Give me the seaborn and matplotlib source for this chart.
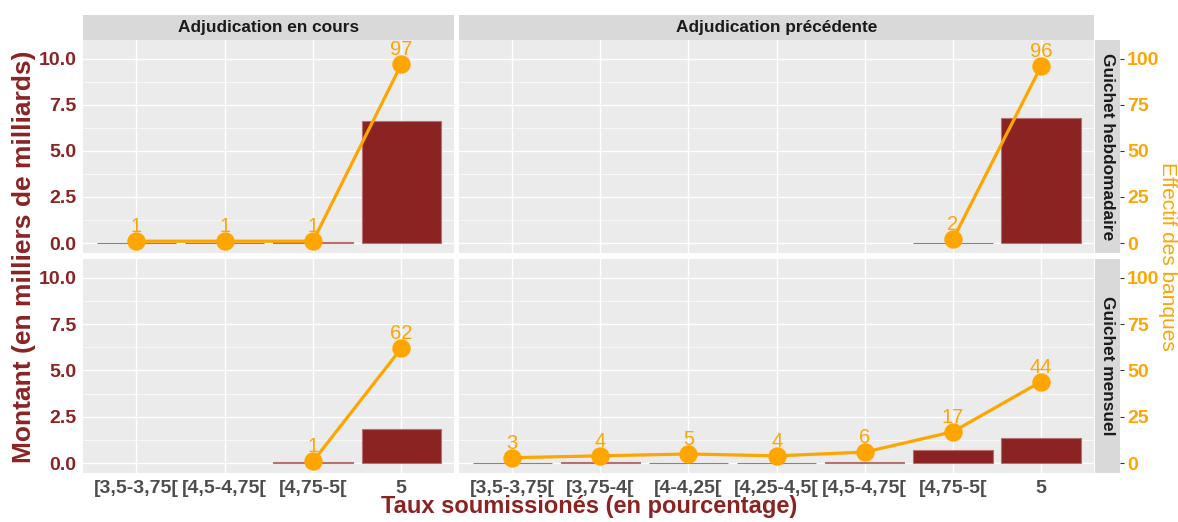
import matplotlib
matplotlib.use("Agg")
import matplotlib.pyplot as plt
import pandas as pd
import seaborn as sns
from matplotlib.ticker import FixedLocator

# ── Data ──────────────────────────────────────────────────────────────────────
CATS_COURS = ["[3,5-3,75[", "[4,5-4,75[", "[4,75-5[", "5"]
CATS_PREC = ["[3,5-3,75[", "[3,75-4[", "[4-4,25[", "[4,25-4,5[",
             "[4,5-4,75[", "[4,75-5[", "5"]

# Guichet hebdomadaire
hebdo_cours_taux = ["[3,5-3,75[", "[4,5-4,75[", "[4,75-5[", "5"]
hebdo_cours_montant = [0.02, 0.01, 0.03, 6.6]
hebdo_cours_effectif = [1, 1, 1, 97]

hebdo_prec_taux = ["[4,75-5[", "5"]
hebdo_prec_montant = [0.02, 6.8]
hebdo_prec_effectif = [2, 96]

# Guichet mensuel
mens_cours_taux = ["[4,75-5[", "5"]
mens_cours_montant = [0.08, 1.85]
mens_cours_effectif = [1, 62]

mens_prec_taux = CATS_PREC
mens_prec_montant = [0.02, 0.05, 0.03, 0.03, 0.06, 0.72, 1.36]
mens_prec_effectif = [3, 4, 5, 4, 6, 17, 44]

COL_LABELS = ["Adjudication en cours", "Adjudication précédente"]
ROW_LABELS = ["Guichet hebdomadaire", "Guichet mensuel"]

# ── Style ─────────────────────────────────────────────────────────────────────
RED = "#8B2323"
ORANGE = "#FFA500"
PANEL_BG = "#EBEBEB"
STRIP_BG = "#D9D9D9"
SCALE = 10  # effectif -> montant axis

sns.set_theme(style="darkgrid", rc={"axes.facecolor": PANEL_BG, "grid.color": "white"})
plt.rcParams["font.family"] = ["Liberation Sans", "DejaVu Sans"]

W, H = 1178, 522
fig = plt.figure(figsize=(W / 100, H / 100), dpi=100)
fig.patch.set_facecolor("white")


def box(x0, y0, x1, y1):
    return [x0 / W, 1 - y1 / H, (x1 - x0) / W, (y1 - y0) / H]


COLS_X = [(83.3, 454.3), (459.3, 1094)]
ROWS_Y = [(40, 252.7), (258.7, 473)]

panels = [
    (0, 0, CATS_COURS, hebdo_cours_taux, hebdo_cours_montant, hebdo_cours_effectif),
    (0, 1, CATS_PREC, hebdo_prec_taux, hebdo_prec_montant, hebdo_prec_effectif),
    (1, 0, CATS_COURS, mens_cours_taux, mens_cours_montant, mens_cours_effectif),
    (1, 1, CATS_PREC, mens_prec_taux, mens_prec_montant, mens_prec_effectif),
]

for r, c, order, taux, montant, effectif in panels:
    (x0, x1), (y0, y1) = COLS_X[c], ROWS_Y[r]
    ax = fig.add_axes(box(x0, y0, x1, y1))
    df = pd.DataFrame({"taux": taux, "montant": montant, "effectif": effectif})
    df["pt"] = df["effectif"] / SCALE

    sns.barplot(data=df, x="taux", y="montant", order=order, color=RED,
                width=0.9, errorbar=None, saturation=1, edgecolor="#b86f6f",
                linewidth=0.8, ax=ax)
    sns.pointplot(data=df, x="taux", y="pt", order=order, color=ORANGE,
                  errorbar=None, markers="o", markersize=11.5, linewidth=2.3,
                  ax=ax)
    for t, e, p in zip(df["taux"], df["effectif"], df["pt"]):
        ax.annotate(str(e), (order.index(t), p), xytext=(0, 6.5),
                    textcoords="offset points", ha="center", va="baseline",
                    color=ORANGE, fontsize=14.5, zorder=10)

    ax.set_xlim(-0.6, len(order) - 0.4)
    ax.set_ylim(-0.525, 11.025)
    ax.set_yticks([0, 2.5, 5, 7.5, 10])
    ax.yaxis.set_minor_locator(FixedLocator([1.25, 3.75, 6.25, 8.75]))
    ax.grid(which="major", color="white", linewidth=1.0)
    ax.grid(which="minor", axis="y", color="white", linewidth=0.5)
    ax.set_axisbelow(True)
    ax.set_xlabel("")
    ax.set_ylabel("")
    for s in ax.spines.values():
        s.set_visible(False)

    ax.tick_params(axis="both", which="major", length=3, width=0.8,
                   color="#333333", pad=2)
    ax.tick_params(axis="both", which="minor", length=0)
    if c == 0:
        ax.set_yticklabels(["0.0", "2.5", "5.0", "7.5", "10.0"],
                           color=RED, fontweight="bold", fontsize=14)
    else:
        ax.tick_params(axis="y", left=False, labelleft=False)
        sec = ax.secondary_yaxis((1120 - x0) / (x1 - x0),
                                 functions=(lambda y: y * SCALE, lambda y: y / SCALE))
        sec.set_yticks([0, 25, 50, 75, 100])
        sec.tick_params(length=3, width=0.8, color="#333333", pad=2)
        for lab in sec.get_yticklabels():
            lab.set_color(ORANGE)
            lab.set_fontweight("bold")
            lab.set_fontsize(14)
        for s in sec.spines.values():
            s.set_visible(False)
    if r == 1:
        ax.set_xticks(range(len(order)))
        ax.set_xticklabels(order, color="#4D4D4D", fontweight="bold", fontsize=14)
    else:
        ax.tick_params(axis="x", bottom=False, labelbottom=False)

# ── Strips ────────────────────────────────────────────────────────────────────
for c, label in enumerate(COL_LABELS):
    x0, x1 = COLS_X[c]
    sax = fig.add_axes(box(x0, 14.5, x1, 39.8))
    sax.set_facecolor(STRIP_BG)
    sax.set_xticks([])
    sax.set_yticks([])
    sax.grid(False)
    for s in sax.spines.values():
        s.set_visible(False)
    sax.text(0.5, 0.5, label, ha="center", va="center", fontsize=12.4,
             fontweight="bold", color="#1A1A1A", transform=sax.transAxes)

for r, label in enumerate(ROW_LABELS):
    y0, y1 = ROWS_Y[r]
    sax = fig.add_axes(box(1094.5, y0, 1120, y1))
    sax.set_facecolor(STRIP_BG)
    sax.set_xticks([])
    sax.set_yticks([])
    sax.grid(False)
    for s in sax.spines.values():
        s.set_visible(False)
    sax.text(0.5, 0.5, label, ha="center", va="center", rotation=-90,
             fontsize=12.4, fontweight="bold", color="#1A1A1A",
             transform=sax.transAxes)

# ── Axis titles ───────────────────────────────────────────────────────────────
fig.text(24 / W, 1 - 256.5 / H, "Montant (en milliers de milliards)", rotation=90,
         ha="center", va="center", color=RED, fontsize=19, fontweight="bold")
fig.text(589 / W, 1 - 507 / H, "Taux soumissionés (en pourcentage)",
         ha="center", va="center", color=RED, fontsize=17, fontweight="bold")
fig.text(1167 / W, 1 - 256.5 / H, "Effectif des banques", rotation=-90,
         ha="center", va="center", color=ORANGE, fontsize=15)

fig.savefig("out.png", dpi=100)
